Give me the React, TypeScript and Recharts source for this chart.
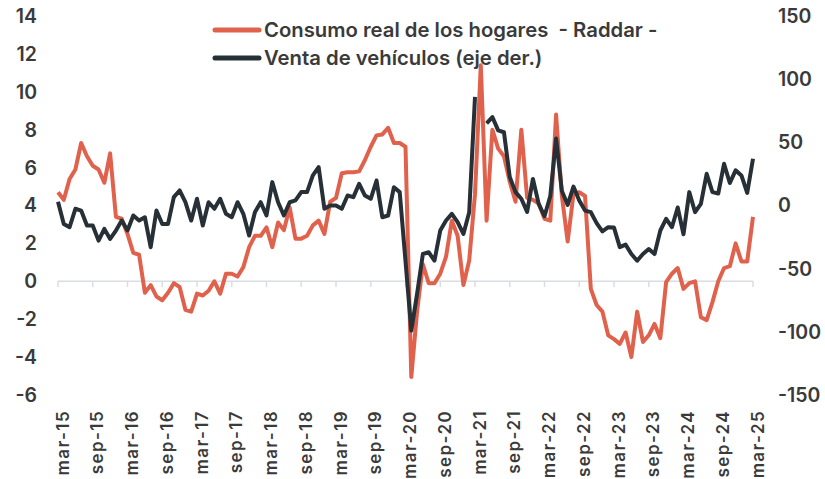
import React from 'react';
import { LineChart, Line, XAxis, YAxis, ReferenceLine, Legend } from 'recharts';

const MONTHS = ['ene', 'feb', 'mar', 'abr', 'may', 'jun', 'jul', 'ago', 'sep', 'oct', 'nov', 'dic'];
const START_YEAR = 2015;
const START_MONTH = 2; // mar
const N_MONTHS = 121; // mar-15 .. mar-25

const categories: string[] = Array.from({ length: N_MONTHS }, (_, i) => {
  const m = (START_MONTH + i) % 12;
  const y = START_YEAR + Math.floor((START_MONTH + i) / 12);
  return `${MONTHS[m]}-${String(y).slice(2)}`;
});

// Consumo real de los hogares - Raddar - (eje izq., %)
const consumo: number[] = [
  4.7, 4.3, 5.4, 5.9, 7.3, 6.6, 6.1, 5.9, 5.2, 6.75,
  3.4, 3.3, 2.5, 1.5, 1.4, -0.6, -0.2, -0.8, -1.0, -0.6,
  -0.1, -0.3, -1.5, -1.6, -0.65, -0.75, -0.5, 0, -0.65, 0.4,
  0.4, 0.25, 0.75, 1.8, 2.4, 2.4, 2.85, 1.8, 3.1, 2.7,
  3.9, 2.25, 2.25, 2.4, 2.95, 3.2, 2.5, 4.2, 4.4, 5.7,
  5.75, 5.75, 5.8, 6.4, 7.1, 7.7, 7.75, 8.1, 7.3, 7.3,
  7.1, -5.05, -1.6, 0.9, -0.1, -0.1, 0.4, 1.3, 3.2, 2.4,
  -0.2, 1.1, 4.6, 11.4, 3.2, 8.0, 7.0, 6.6, 5.25, 4.2,
  8.0, 4.4, 4.3, 4.1, 3.3, 3.2, 8.8, 4.5, 2.1, 4.6,
  4.7, 4.5, -0.4, -1.25, -1.6, -2.85, -3.05, -3.3, -2.7, -4.0,
  -1.6, -3.2, -2.85, -2.25, -3.0, -0.05, 0.4, 0.7, -0.4, -0.1,
  0, -1.9, -2.05, -1.1, 0, 0.7, 0.8, 2.0, 1.05, 1.05,
  3.4,
];

// Venta de vehículos (eje der., %)
const ventas: (number | null)[] = [
  3, -14.6, -17.2, -2.6, -4, -15.9, -15.9, -27.8, -18.5, -26.5,
  -19.8, -11.9, -19.8, -7.9, -11.9, -9.3, -33, -4, -14.6, -14.6,
  6.6, 11.9, 2.6, -11.9, 5.3, -15.9, 2.6, -2.6, 5.3, -6.6,
  -9.3, 2.6, -6.6, -23.8, -5.3, 2.6, -7.9, 18.5, 2.6, -7.9,
  2.6, 4, 10.6, 10.6, 23.8, 30.4, -2.6, 0, 0, -2.6,
  7.9, 6.6, 17.2, 7.9, 5.3, 19.8, -9.3, -7.9, 14.5, 10.6,
  -44, -99, -70, -38.4, -37, -43.7, -19.8, -11.9, -6.6, -13.2,
  -22.5, -5.3, 86, null, 65, 70, 59.5, 58, 22.5, 10.6,
  5.3, -5, 21, 1.3, -8.5, 7.5, 53, 11.5, 0.5, 15,
  4, -4, -5.3, -14, -20.5, -17.2, -17.5, -33, -31, -38.4,
  -43.7, -38.4, -34.4, -38.4, -19.8, -10.6, -17.2, -1.6, -22.8, 10.6,
  -5.3, 1.3, 25.1, 10.6, 9.5, 33, 17.8, 27.8, 23.8, 10,
  37,
];

const LEFT_TICKS = [-6, -4, -2, 0, 2, 4, 6, 8, 10, 12, 14];
const RIGHT_TICKS = [-150, -100, -50, 0, 50, 100, 150];
const LABEL_EVERY = 6;

const SERIES_CONSUMO = 'Consumo real de los hogares  - Raddar -';
const SERIES_VENTAS = 'Venta de vehículos (eje der.)';

const data = categories.map((m, i) => ({ m, consumo: consumo[i], ventas: ventas[i] }));
const labelCats = categories.filter((_, i) => i % LABEL_EVERY === 0);

const FONT = 'Inter, "Noto Sans", sans-serif';
const TEXT = '#3a3a3a';
const RED = '#E0624D';
const DARK = '#263036';
const AXIS = '#d7dee4';

const XTick = (props: any) => {
  const { x, y, payload } = props;
  const ty = y + 13;
  const tx = x + 4.5;
  return (
    <text
      x={tx}
      y={ty}
      transform={`rotate(-90, ${tx}, ${ty})`}
      textAnchor="end"
      dy="0.36em"
      fill={TEXT}
      fontFamily={FONT}
      fontWeight={600}
      fontSize={17}
      letterSpacing={1.4}
    >
      {payload.value}
    </text>
  );
};

const LegendContent = (props: any) => {
  const { payload } = props;
  return (
    <div style={{ display: 'flex', flexDirection: 'column' }}>
      {(payload || []).map((p: any) => (
        <div key={p.value} style={{ display: 'flex', alignItems: 'center', height: 28 }}>
          <svg width={50} height={10} style={{ display: 'block' }}>
            <line x1={3} y1={5} x2={47} y2={5} stroke={p.color} strokeWidth={5} strokeLinecap="round" />
          </svg>
          <span
            style={{
              marginLeft: 2,
              whiteSpace: 'pre',
              fontFamily: FONT,
              fontWeight: 600,
              fontSize: 20.3,
              color: TEXT,
              lineHeight: '28px',
            }}
          >
            {p.value}
          </span>
        </div>
      ))}
    </div>
  );
};

export default function App() {
  return (
    <div style={{ position: 'absolute', left: 0, top: 0, width: 825, height: 479, background: '#fff', fontFamily: FONT }}>
      <LineChart width={825} height={479} data={data} margin={{ top: 16, right: 12, bottom: 0, left: 0 }}>
        <XAxis
          dataKey="m"
          interval={LABEL_EVERY - 1}
          axisLine={false}
          tickLine={false}
          tickSize={0}
          height={84}
          tick={<XTick />}
        />
        <YAxis
          yAxisId="left"
          domain={[-6, 14]}
          ticks={LEFT_TICKS}
          axisLine={false}
          tickLine={false}
          tickSize={0}
          tickMargin={21}
          width={58}
          tick={{ fill: TEXT, fontFamily: FONT, fontWeight: 600, fontSize: 19.5 }}
        />
        <YAxis
          yAxisId="right"
          orientation="right"
          domain={[-150, 150]}
          ticks={RIGHT_TICKS}
          axisLine={false}
          tickLine={false}
          tickSize={0}
          tickMargin={25}
          width={60}
          tick={{ fill: TEXT, fontFamily: FONT, fontWeight: 600, fontSize: 19.5, textAnchor: 'start' }}
        />
        <ReferenceLine yAxisId="left" y={0} stroke={AXIS} strokeWidth={1.5} />
        {labelCats.map((c) => (
          <ReferenceLine
            key={c}
            yAxisId="left"
            segment={[{ x: c, y: 0 }, { x: c, y: -0.3 }]}
            stroke={AXIS}
            strokeWidth={1.5}
          />
        ))}
        <Legend
          layout="horizontal"
          verticalAlign="middle"
          align="center"
          wrapperStyle={{ top: 16, left: 212, width: 540 }}
          content={<LegendContent />}
        />
        <Line
          yAxisId="left"
          type="linear"
          dataKey="consumo"
          name={SERIES_CONSUMO}
          stroke={RED}
          strokeWidth={4}
          dot={false}
          strokeLinejoin="round"
          isAnimationActive={false}
        />
        <Line
          yAxisId="right"
          type="linear"
          dataKey="ventas"
          name={SERIES_VENTAS}
          stroke={DARK}
          strokeWidth={4}
          dot={false}
          strokeLinejoin="round"
          isAnimationActive={false}
        />
      </LineChart>
    </div>
  );
}
